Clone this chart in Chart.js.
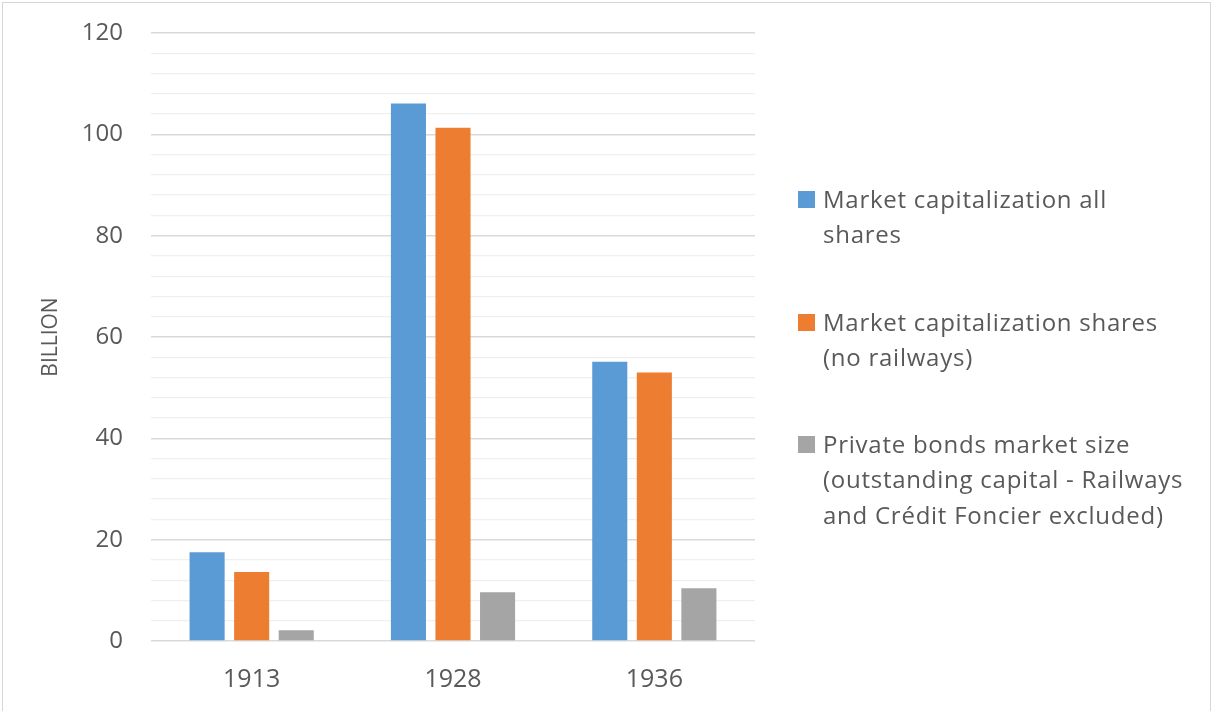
<!DOCTYPE html>
<html lang="en">
<head>
    <meta charset="UTF-8">
    <title>Market capitalization and private bonds</title>
    <style>
        body {
            margin: 0;
            padding: 0;
            background: #ffffff;
            font-family: "Open Sans", sans-serif;
        }
        #wrap {
            position: relative;
            width: 1212px;
            height: 711px;
            overflow: hidden;
        }
        #frame {
            position: absolute;
            left: 2px;
            top: 2px;
            width: 1207px;
            height: 720px;
            border: 1px solid #d6d6d6;
            pointer-events: none;
        }
        #legend {
            position: absolute;
            left: 798px;
            top: 0;
        }
        .item {
            position: absolute;
            left: 0;
            white-space: nowrap;
            color: #595959;
            font-size: 24px;
            line-height: 35.7px;
            letter-spacing: 0.75px;
        }
        .item .box {
            position: absolute;
            left: 0;
            top: 10.5px;
            width: 17px;
            height: 17px;
        }
        .item .txt {
            position: absolute;
            left: 25px;
            top: 0;
        }
    </style>
    <script src="https://cdn.jsdelivr.net/npm/chart.js"></script>
</head>
<body>
<div id="wrap">
    <canvas id="myChart" width="1212" height="711"></canvas>
    <div id="frame"></div>
    <div id="legend"></div>
</div>

<script>
    // data
    const years = ['1913', '1928', '1936'];
    const allShares = [17.5, 106.1, 55.1];
    const sharesNoRailways = [13.6, 101.3, 53.0];
    const privateBonds = [2.1, 9.6, 10.4];

    const seriesNames = [
        ['Market capitalization all', 'shares'],
        ['Market capitalization shares', '(no railways)'],
        ['Private bonds market size', '(outstanding capital - Railways', 'and Crédit Foncier excluded)']
    ];
    const colors = ['#5b9bd5', '#ed7d31', '#a5a5a5'];

    const yMax = 120;
    const yStep = 4;
    const yLabelStep = 20;

    const textColor = '#595959';

    const ctx = document.getElementById('myChart').getContext('2d');
    const seriesValues = [allShares, sharesNoRailways, privateBonds];

    const myChart = new Chart(ctx, {
        type: 'bar',
        data: {
            labels: years,
            datasets: seriesValues.map((vals, i) => ({
                label: seriesNames[i].join(' '),
                data: vals,
                backgroundColor: colors[i],
                borderWidth: 0,
                categoryPercentage: 0.664,
                barPercentage: 0.787
            }))
        },
        options: {
            responsive: false,
            animation: false,
            layout: {
                padding: { left: 0, right: 457, top: 33, bottom: 0 }
            },
            plugins: {
                legend: { display: false },
                tooltip: { enabled: false }
            },
            scales: {
                x: {
                    grid: { display: false },
                    border: { display: false },
                    ticks: {
                        color: textColor,
                        font: { family: 'Open Sans', size: 25 },
                        padding: 16
                    },
                    afterFit: scale => { scale.height = 70; }
                },
                y: {
                    min: 0,
                    max: yMax,
                    border: { display: false },
                    grid: {
                        drawTicks: false,
                        lineWidth: c => (c.tick && c.tick.value % yLabelStep === 0) ? 1.5 : 1.3,
                        color: c => (c.tick && c.tick.value % yLabelStep === 0) ? '#d9d9d9' : '#f0f0f0'
                    },
                    ticks: {
                        stepSize: yStep,
                        autoSkip: false,
                        color: textColor,
                        font: { family: 'Open Sans', size: 24 },
                        padding: 28,
                        callback: v => (v % yLabelStep === 0) ? v : ''
                    },
                    title: {
                        display: true,
                        text: 'BILLION',
                        color: textColor,
                        font: { family: 'Open Sans', size: 21 },
                        padding: { top: 38, bottom: 0 }
                    },
                    afterFit: scale => {
                        scale.width = 151;
                        // tick padding is horizontal only here, don't let it push the plot down
                        scale.paddingTop = 15;
                        scale.paddingBottom = 15;
                    }
                }
            }
        }
    });

    // legend drawn as html text, wrapped like the original
    const itemTops = [180.5, 303.5, 425.5];
    const legend = document.getElementById('legend');
    seriesNames.forEach((lines, i) => {
        const item = document.createElement('div');
        item.className = 'item';
        item.style.top = itemTops[i] + 'px';
        const box = document.createElement('div');
        box.className = 'box';
        box.style.background = colors[i];
        const txt = document.createElement('div');
        txt.className = 'txt';
        txt.innerHTML = lines.join('<br>');
        item.appendChild(box);
        item.appendChild(txt);
        legend.appendChild(item);
    });
</script>
</body>
</html>
